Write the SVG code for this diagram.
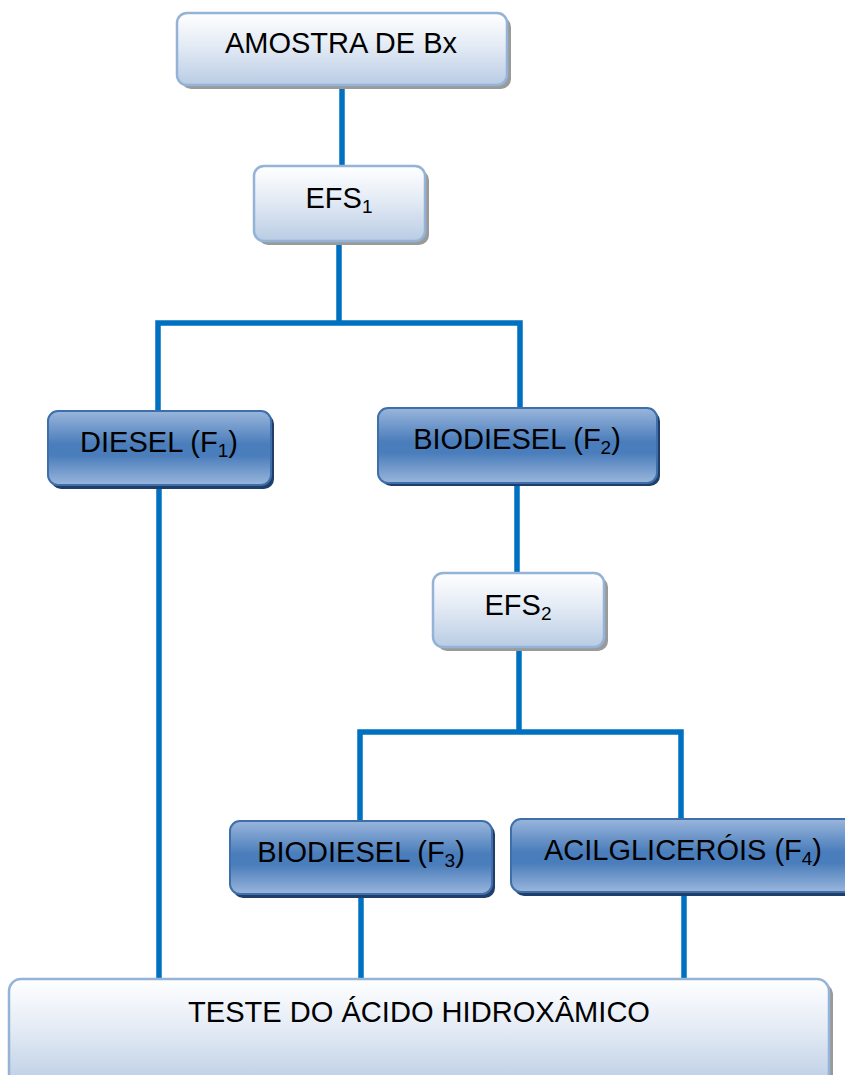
<svg xmlns="http://www.w3.org/2000/svg" width="845" height="1075" viewBox="0 0 845 1075">
<defs>
<linearGradient id="lightG" x1="0" y1="0" x2="0" y2="1">
<stop offset="0" stop-color="#ffffff"/>
<stop offset="0.45" stop-color="#e4ebf5"/>
<stop offset="1" stop-color="#b9cce4"/>
</linearGradient>
<linearGradient id="darkG" x1="0" y1="0" x2="0" y2="1">
<stop offset="0" stop-color="#9ab6dc"/>
<stop offset="0.45" stop-color="#4a7dbb"/>
<stop offset="0.6" stop-color="#4a7dbb"/>
<stop offset="1" stop-color="#9ab6dc"/>
</linearGradient>
</defs>
<style>
.light{fill:url(#lightG);stroke:#95b3d7;stroke-width:2.5}
.dark{fill:url(#darkG);stroke:#3f6fab;stroke-width:2}
.shl{fill:#9a9a9a}
.shd{fill:#1f3f6a}
.lbl{font-family:"Liberation Sans",Arial,sans-serif;font-size:29px;fill:#000;text-anchor:middle}
.sub{font-size:19px}
.conn{stroke:#0070c0;stroke-width:5.5;fill:none}
</style>
<rect width="845" height="1075" fill="#ffffff"/>
<g id="connectors">
<line class="conn" x1="342" y1="84" x2="342" y2="167"/>
<path class="conn" d="M339 241 V323 M158 411 V323 H520 V409"/>
<line class="conn" x1="159" y1="485" x2="159" y2="980"/>
<line class="conn" x1="517" y1="483" x2="517" y2="574"/>
<line class="conn" x1="519" y1="646" x2="519" y2="732"/>
<path class="conn" d="M360 822 V732 H681 V820"/>
<line class="conn" x1="361" y1="894" x2="361" y2="980"/>
<line class="conn" x1="684" y1="891" x2="684" y2="980"/>
</g>
<g id="amostra">
<rect class="shl" x="181" y="17" width="330" height="72" rx="10"/>
<rect class="light" x="177" y="13" width="330" height="72" rx="10"/>
<text class="lbl" x="341" y="53">AMOSTRA DE Bx</text>
</g>
<g id="efs1">
<rect class="shl" x="258" y="170" width="171" height="75" rx="10"/>
<rect class="light" x="254" y="166" width="171" height="75" rx="10"/>
<text class="lbl" x="339" y="208">EFS<tspan class="sub" dy="5">1</tspan></text>
</g>
<g id="diesel">
<rect class="shd" x="51" y="414" width="223" height="75" rx="10"/>
<rect class="dark" x="48" y="411" width="223" height="74" rx="10"/>
<text class="lbl" x="159" y="452">DIESEL (F<tspan class="sub" dy="5">1</tspan><tspan dy="-5">)</tspan></text>
</g>
<g id="biodiesel2">
<rect class="shd" x="381" y="411" width="279" height="75" rx="10"/>
<rect class="dark" x="378" y="408" width="279" height="75" rx="10"/>
<text class="lbl" x="517" y="449">BIODIESEL (F<tspan class="sub" dy="5">2</tspan><tspan dy="-5">)</tspan></text>
</g>
<g id="efs2">
<rect class="shl" x="437" y="577" width="171" height="74" rx="10"/>
<rect class="light" x="433" y="573" width="171" height="74" rx="10"/>
<text class="lbl" x="518" y="615">EFS<tspan class="sub" dy="5">2</tspan></text>
</g>
<g id="biodiesel3">
<rect class="shd" x="233" y="824" width="262" height="74" rx="10"/>
<rect class="dark" x="230" y="821" width="262" height="73" rx="10"/>
<text class="lbl" x="361" y="862">BIODIESEL (F<tspan class="sub" dy="5">3</tspan><tspan dy="-5">)</tspan></text>
</g>
<g id="acilglicerois">
<rect class="shd" x="514" y="822" width="340" height="74" rx="10"/>
<rect class="dark" x="511" y="819" width="345" height="73" rx="10"/>
<text class="lbl" x="683" y="860">ACILGLICERÓIS (F<tspan class="sub" dy="5">4</tspan><tspan dy="-5">)</tspan></text>
</g>
<g id="teste">
<rect class="shl" x="13" y="983" width="820" height="110" rx="12"/>
<rect class="light" x="9" y="979" width="820" height="110" rx="12"/>
<text class="lbl" x="419" y="1022" textLength="462" lengthAdjust="spacingAndGlyphs">TESTE DO ÁCIDO HIDROXÂMICO</text>
</g>
</svg>
